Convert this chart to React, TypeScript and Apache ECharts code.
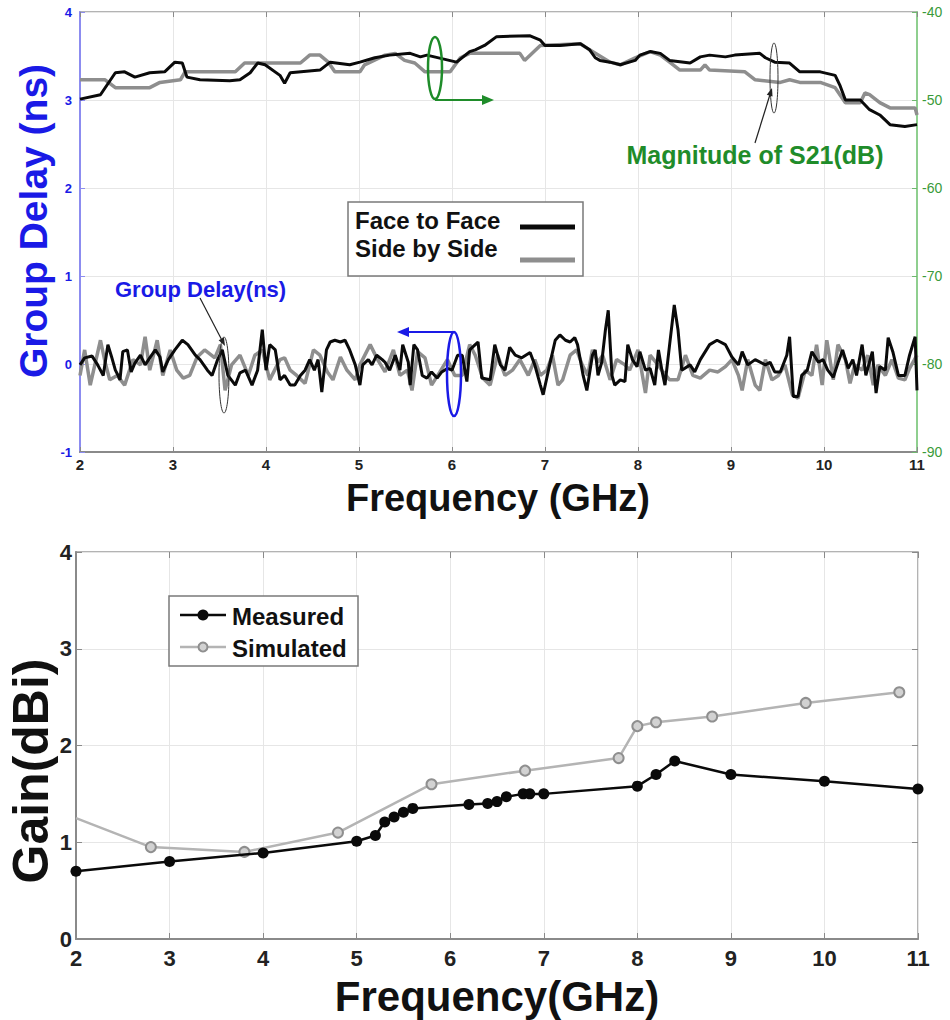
import React, { useEffect, useRef } from "react";
import * as echarts from "echarts";

// ---------- Top chart data ----------
const FREQ_TICKS = [2, 3, 4, 5, 6, 7, 8, 9, 10, 11];

// Magnitude of S21 (dB), [GHz, dB]
const S21_FACE: [number, number][] = [
  [2.0, -49.9], [2.22, -49.4], [2.38, -46.9], [2.48, -46.8], [2.59, -47.4], [2.75, -46.9], [2.91, -46.8],
  [3.02, -45.7], [3.1, -45.8], [3.15, -47.4], [3.29, -47.7], [3.61, -47.8], [3.72, -47.7], [3.83, -46.9],
  [3.91, -45.8], [3.99, -46.0], [4.15, -47.2], [4.2, -48.1], [4.26, -46.9], [4.58, -46.6], [4.69, -45.7],
  [4.9, -46.0], [5.01, -45.7], [5.17, -45.2], [5.33, -44.9], [5.55, -44.7], [5.66, -45.1], [5.73, -44.9],
  [6.05, -45.7], [6.19, -44.5], [6.25, -44.3], [6.35, -43.8], [6.48, -42.8], [6.84, -42.7], [6.95, -43.2],
  [7.0, -43.8], [7.16, -43.8], [7.38, -43.6], [7.48, -44.3], [7.54, -45.2], [7.59, -45.5], [7.7, -45.7],
  [7.81, -46.0], [7.97, -45.5], [8.02, -44.9], [8.13, -44.5], [8.24, -44.7], [8.34, -45.5], [8.56, -45.8],
  [8.67, -45.1], [8.77, -44.9], [8.94, -45.1], [9.04, -44.9], [9.31, -44.7], [9.37, -45.2], [9.47, -45.7],
  [9.63, -45.8], [9.74, -46.8], [9.96, -46.8], [10.12, -47.2], [10.17, -48.3], [10.23, -50.0], [10.39, -50.0],
  [10.49, -51.1], [10.6, -51.7], [10.71, -52.8], [10.87, -53.0], [11.0, -52.8],
];
const S21_SIDE: [number, number][] = [
  [2.0, -47.7], [2.27, -47.7], [2.38, -48.6], [2.75, -48.6], [2.86, -48.0], [3.08, -47.7], [3.13, -46.8],
  [3.67, -46.8], [3.77, -45.8], [4.37, -45.8], [4.47, -44.9], [4.58, -44.9], [4.67, -45.7], [4.74, -46.8],
  [5.01, -46.8], [5.06, -46.0], [5.28, -44.9], [5.39, -44.7], [5.49, -45.5], [5.6, -45.8], [5.71, -46.8],
  [5.87, -46.8], [5.98, -46.8], [6.09, -45.2], [6.19, -44.7], [6.73, -44.7], [6.78, -45.5], [6.95, -43.8],
  [7.38, -43.6], [7.48, -44.3], [7.7, -45.7], [7.81, -46.0], [7.97, -45.2], [8.13, -44.5], [8.24, -44.9],
  [8.34, -45.7], [8.45, -46.6], [8.67, -46.6], [8.72, -46.0], [8.77, -46.6], [9.15, -46.8], [9.26, -47.7],
  [9.53, -48.0], [9.63, -47.7], [9.74, -48.0], [9.96, -48.0], [10.12, -48.6], [10.23, -50.3], [10.39, -50.3],
  [10.44, -49.2], [10.49, -49.4], [10.6, -50.3], [10.71, -50.9], [10.98, -50.9], [11.0, -51.7],
];

// Group delay (ns), [GHz, ns]
const GD_FACE: [number, number][] = [
  [2.0, -0.01], [2.05, 0.07], [2.13, 0.09], [2.19, -0.01], [2.25, -0.13], [2.3, 0.22], [2.34, 0.08], [2.38, -0.07],
  [2.41, -0.13], [2.43, -0.18], [2.46, 0.14], [2.51, 0.16], [2.55, -0.09], [2.59, 0.01], [2.65, 0.1], [2.7, -0.01],
  [2.75, 0.07], [2.81, 0.16], [2.86, 0.08], [2.89, -0.09], [2.95, 0.05], [3.02, 0.16], [3.1, 0.27], [3.16, 0.22],
  [3.24, 0.1], [3.29, 0.05], [3.37, -0.07], [3.42, -0.13], [3.48, 0.05], [3.53, 0.16], [3.59, -0.13], [3.67, -0.24],
  [3.72, -0.1], [3.78, -0.07], [3.85, -0.24], [3.91, -0.07], [3.96, 0.39], [4.0, -0.07], [4.04, 0.22], [4.1, 0.16],
  [4.15, -0.18], [4.2, -0.13], [4.26, -0.24], [4.31, -0.24], [4.37, -0.13], [4.42, -0.07], [4.47, 0.05], [4.52, -0.07],
  [4.56, 0.05], [4.6, -0.32], [4.65, 0.16], [4.69, 0.25], [4.74, 0.27], [4.8, 0.25], [4.85, 0.27], [4.9, 0.16],
  [4.96, -0.01], [5.01, -0.24], [5.04, -0.01], [5.1, 0.05], [5.14, -0.01], [5.19, 0.1], [5.25, 0.05], [5.28, 0.02],
  [5.33, -0.07], [5.39, 0.1], [5.44, -0.07], [5.47, 0.22], [5.53, 0.02], [5.55, -0.24], [5.59, 0.22], [5.63, 0.16],
  [5.68, -0.13], [5.73, -0.16], [5.78, -0.09], [5.84, -0.16], [5.89, -0.09], [5.95, -0.05], [6.0, -0.07], [6.06, 0.1],
  [6.11, 0.1], [6.16, -0.2], [6.19, 0.16], [6.25, 0.22], [6.28, 0.25], [6.32, -0.16], [6.41, -0.18], [6.46, 0.22],
  [6.52, -0.01], [6.57, -0.07], [6.62, 0.19], [6.68, 0.1], [6.75, 0.07], [6.84, 0.13], [6.89, -0.01], [6.95, -0.24],
  [6.98, -0.35], [7.05, -0.01], [7.11, 0.27], [7.16, 0.33], [7.22, 0.27], [7.27, 0.25], [7.32, 0.3], [7.35, 0.22],
  [7.41, -0.13], [7.45, -0.3], [7.51, 0.1], [7.54, 0.16], [7.57, -0.13], [7.61, 0.02], [7.65, 0.39], [7.68, 0.61],
  [7.72, -0.13], [7.75, -0.24], [7.81, -0.18], [7.86, -0.2], [7.89, 0.22], [7.94, 0.05], [7.99, -0.03], [8.02, 0.14],
  [8.08, -0.07], [8.13, -0.05], [8.18, -0.24], [8.22, 0.16], [8.26, -0.09], [8.29, -0.24], [8.34, 0.22], [8.39, 0.67],
  [8.43, 0.39], [8.47, -0.07], [8.56, -0.01], [8.61, -0.09], [8.67, 0.05], [8.77, 0.22], [8.85, 0.27], [8.94, 0.22],
  [9.01, 0.08], [9.08, -0.01], [9.12, 0.14], [9.18, -0.01], [9.26, 0.05], [9.37, -0.01], [9.42, 0.02], [9.47, -0.09],
  [9.53, -0.09], [9.6, 0.1], [9.63, 0.31], [9.67, -0.37], [9.72, -0.37], [9.76, -0.13], [9.82, -0.07], [9.87, 0.14],
  [9.94, 0.02], [9.99, 0.05], [10.04, -0.07], [10.1, -0.15], [10.15, 0.01], [10.2, 0.16], [10.26, -0.05], [10.31, 0.05],
  [10.35, -0.13], [10.41, 0.22], [10.45, -0.13], [10.52, 0.14], [10.56, -0.33], [10.6, -0.03], [10.66, -0.07],
  [10.69, 0.3], [10.74, 0.14], [10.8, -0.13], [10.87, -0.13], [10.92, 0.1], [10.98, 0.31], [11.0, -0.3],
];
const GD_SIDE: [number, number][] = [
  [2.0, -0.13], [2.05, 0.16], [2.11, -0.24], [2.22, 0.27], [2.27, 0.02], [2.32, -0.18], [2.4, -0.13], [2.48, -0.24],
  [2.57, 0.05], [2.65, -0.01], [2.7, 0.31], [2.75, -0.07], [2.83, 0.27], [2.89, -0.13], [2.97, 0.16], [3.04, -0.07],
  [3.11, -0.16], [3.18, -0.13], [3.26, 0.08], [3.34, 0.16], [3.45, 0.07], [3.51, 0.22], [3.56, -0.3], [3.63, -0.01],
  [3.72, 0.1], [3.81, -0.13], [3.88, 0.1], [3.96, 0.16], [4.04, -0.18], [4.15, 0.05], [4.2, 0.07], [4.26, -0.07],
  [4.33, -0.13], [4.42, -0.22], [4.51, 0.16], [4.58, 0.1], [4.66, -0.09], [4.72, -0.18], [4.8, 0.08], [4.87, -0.07],
  [4.96, -0.18], [5.01, -0.01], [5.12, 0.22], [5.2, 0.05], [5.28, -0.09], [5.37, 0.16], [5.44, -0.13], [5.52, -0.07],
  [5.57, -0.3], [5.63, 0.14], [5.71, 0.07], [5.78, -0.24], [5.87, -0.09], [5.95, 0.05], [6.03, -0.13], [6.11, -0.13],
  [6.19, 0.22], [6.25, 0.1], [6.33, -0.16], [6.41, -0.24], [6.49, 0.1], [6.57, -0.13], [6.65, -0.07], [6.73, 0.05],
  [6.82, -0.13], [6.89, 0.05], [6.95, -0.13], [7.02, -0.07], [7.08, 0.1], [7.14, -0.24], [7.19, -0.18], [7.27, 0.1],
  [7.34, 0.16], [7.4, -0.01], [7.46, -0.13], [7.51, 0.16], [7.57, 0.02], [7.62, 0.1], [7.7, -0.18], [7.77, 0.05],
  [7.86, -0.01], [7.91, -0.07], [8.0, 0.16], [8.08, -0.33], [8.13, 0.1], [8.2, 0.01], [8.27, -0.09], [8.34, -0.18],
  [8.43, -0.18], [8.51, 0.1], [8.59, -0.13], [8.67, -0.16], [8.77, -0.07], [8.86, -0.09], [8.94, -0.03], [9.01, 0.05],
  [9.08, -0.13], [9.12, -0.3], [9.18, 0.05], [9.26, -0.24], [9.31, -0.3], [9.37, 0.05], [9.44, -0.18], [9.51, -0.13],
  [9.58, -0.01], [9.66, -0.35], [9.72, -0.39], [9.8, -0.07], [9.87, -0.13], [9.92, 0.22], [9.98, -0.24], [10.03, 0.27],
  [10.1, -0.18], [10.15, 0.22], [10.23, 0.05], [10.28, -0.22], [10.33, -0.01], [10.41, -0.07], [10.47, 0.1],
  [10.53, -0.24], [10.58, -0.01], [10.66, -0.13], [10.73, 0.05], [10.8, -0.16], [10.87, -0.18], [10.92, -0.05],
  [11.0, 0.1],
];

// ---------- Bottom chart data ----------
const MEAS_F = [2, 3, 4, 5, 5.2, 5.3, 5.4, 5.5, 5.6, 6.2, 6.4, 6.5, 6.6, 6.78, 6.85, 7, 8, 8.2, 8.4, 9, 10, 11];
const MEAS_G = [0.7, 0.8, 0.89, 1.01, 1.07, 1.21, 1.26, 1.31, 1.35, 1.39, 1.4, 1.42, 1.47, 1.5, 1.5, 1.5, 1.58, 1.7, 1.84, 1.7, 1.63, 1.55];
const SIM_F = [2, 2.8, 3.8, 4.8, 5.8, 6.8, 7.8, 8.0, 8.2, 8.8, 9.8, 10.8];
const SIM_G = [1.25, 0.95, 0.9, 1.1, 1.6, 1.74, 1.87, 2.2, 2.24, 2.3, 2.44, 2.55];

const FONT = "'Liberation Sans', Arial, Helvetica, sans-serif";
const BLUE = "#1a1ae6";
const GREEN = "#1f8c2a";

export default function App() {
  const ref = useRef<HTMLDivElement>(null);

  useEffect(() => {
    document.body.style.margin = "0";
    if (!ref.current) return;
    const chart = echarts.init(ref.current, undefined, { renderer: "svg" });

    const arrowHead = (tipX: number, tipY: number, dirX: number, dirY: number, color: string, len = 10, half = 4) => {
      const nx = -dirY, ny = dirX;
      const bx = tipX - dirX * len, by = tipY - dirY * len;
      return {
        type: "polygon",
        shape: { points: [[tipX, tipY], [bx + nx * half, by + ny * half], [bx - nx * half, by - ny * half]] },
        style: { fill: color },
        z: 100,
      };
    };
    const norm = (x: number, y: number) => {
      const l = Math.hypot(x, y);
      return [x / l, y / l];
    };
    const [adx, ady] = norm(225 - 200, 346 - 298);
    const [mdx, mdy] = norm(772 - 755, 88 - 143);

    const titleText = (text: string, x: number, y: number, size: number, color: string, rotate = false) => ({
      type: "text", x, y, rotation: rotate ? Math.PI / 2 : 0,
      style: { text, font: `bold ${size}px ${FONT}`, fill: color, textAlign: "center", textVerticalAlign: "middle" },
      z: 40,
    });

    const option: any = {
      animation: false,
      backgroundColor: "#ffffff",
      textStyle: { fontFamily: FONT },
      grid: [
        { left: 80, right: 33, top: 12, height: 440, show: true, borderColor: "#9a9a9a", borderWidth: 1.5, containLabel: false, outerBoundsMode: "none" },
        { left: 76, right: 32, top: 552, height: 387, show: true, borderColor: "#9a9a9a", borderWidth: 1.5, containLabel: false, outerBoundsMode: "none" },
      ],
      xAxis: [
        {
          type: "value", gridIndex: 0, min: 2, max: 11, interval: 1,
          axisLine: { onZero: false, lineStyle: { color: "#8a8a8a", width: 2 } },
          axisTick: { inside: true, length: 5, lineStyle: { color: "#8a8a8a" } },
          axisLabel: { fontSize: 15, fontWeight: "bold", color: "#222", margin: 5, fontFamily: FONT },
          splitLine: { show: true, lineStyle: { color: "#e6e6e6", width: 1 } },
        },
        {
          type: "value", gridIndex: 0, min: 2, max: 11, interval: 1, position: "top",
          axisLine: { show: false, onZero: false }, axisLabel: { show: false }, splitLine: { show: false },
          axisTick: { inside: true, length: 5, lineStyle: { color: "#8a8a8a" } },
        },
        {
          type: "value", gridIndex: 1, min: 2, max: 11, interval: 1,
          axisLine: { onZero: false, lineStyle: { color: "#8a8a8a", width: 2 } },
          axisTick: { inside: true, length: 6, lineStyle: { color: "#8a8a8a" } },
          axisLabel: { fontSize: 22, fontWeight: "bold", color: "#222", margin: 8, fontFamily: FONT },
          splitLine: { show: true, lineStyle: { color: "#e6e6e6", width: 1 } },
        },
        {
          type: "value", gridIndex: 1, min: 2, max: 11, interval: 1, position: "top",
          axisLine: { show: false, onZero: false }, axisLabel: { show: false }, splitLine: { show: false },
          axisTick: { inside: true, length: 6, lineStyle: { color: "#8a8a8a" } },
        },
      ],
      yAxis: [
        {
          type: "value", gridIndex: 0, min: -1, max: 4, interval: 1, position: "left",
          axisLine: { show: true, onZero: false, lineStyle: { color: "#8c8cf0", width: 2 } },
          axisTick: { show: true, inside: true, length: 5, lineStyle: { color: "#8c8cf0" } },
          axisLabel: { fontSize: 13, fontWeight: "bold", color: BLUE, margin: 8, fontFamily: FONT },
          splitLine: { show: true, lineStyle: { color: "#e6e6e6", width: 1 } },
        },
        {
          type: "value", gridIndex: 0, min: -90, max: -40, interval: 10, position: "right",
          axisLine: { show: true, onZero: false, lineStyle: { color: "#8fcf8f", width: 2 } },
          axisTick: { show: true, inside: true, length: 5, lineStyle: { color: "#6fb86f" } },
          axisLabel: { fontSize: 14, color: "#3a9a3a", margin: 5, fontFamily: FONT },
          splitLine: { show: false },
        },
        {
          type: "value", gridIndex: 1, min: 0, max: 4, interval: 1, position: "left",
          axisLine: { show: true, onZero: false, lineStyle: { color: "#8a8a8a", width: 2 } },
          axisTick: { show: true, inside: true, length: 6, lineStyle: { color: "#8a8a8a" } },
          axisLabel: { fontSize: 22, fontWeight: "bold", color: "#222", margin: 4, fontFamily: FONT },
          splitLine: { show: true, lineStyle: { color: "#e6e6e6", width: 1 } },
        },
        {
          type: "value", gridIndex: 1, min: 0, max: 4, interval: 1, position: "right",
          axisLine: { show: false, onZero: false }, axisLabel: { show: false }, splitLine: { show: false },
          axisTick: { show: true, inside: true, length: 6, lineStyle: { color: "#8a8a8a" } },
        },
      ],
      series: [
        {
          name: "Side by Side S21", type: "line", xAxisIndex: 0, yAxisIndex: 1, data: S21_SIDE,
          showSymbol: false, lineStyle: { color: "#8e8e8e", width: 3.5 }, z: 2,
        },
        {
          name: "Face to Face S21", type: "line", xAxisIndex: 0, yAxisIndex: 1, data: S21_FACE,
          showSymbol: false, lineStyle: { color: "#0a0a0a", width: 3 }, z: 3,
        },
        {
          name: "Side by Side GD", type: "line", xAxisIndex: 0, yAxisIndex: 0, data: GD_SIDE,
          showSymbol: false, lineStyle: { color: "#8e8e8e", width: 3.5 }, z: 2,
        },
        {
          name: "Face to Face GD", type: "line", xAxisIndex: 0, yAxisIndex: 0, data: GD_FACE,
          showSymbol: false, lineStyle: { color: "#0a0a0a", width: 3 }, z: 3,
        },
        {
          name: "Simulated", type: "line", xAxisIndex: 2, yAxisIndex: 2,
          data: SIM_F.map((f, i) => (i === 0 ? { value: [f, SIM_G[i]], symbol: "none" } : [f, SIM_G[i]])),
          symbol: "circle", symbolSize: 10,
          lineStyle: { color: "#b4b4b4", width: 2.5 },
          itemStyle: { color: "#d2d2d2", borderColor: "#8f8f8f", borderWidth: 2 }, z: 2,
        },
        {
          name: "Measured", type: "line", xAxisIndex: 2, yAxisIndex: 2,
          data: MEAS_F.map((f, i) => [f, MEAS_G[i]]),
          symbol: "circle", symbolSize: 11,
          lineStyle: { color: "#0a0a0a", width: 2.5 },
          itemStyle: { color: "#0a0a0a" }, z: 3,
        },
      ],
      graphic: [
        // axis titles
        titleText("Group Delay (ns)", 33, 221, 39, BLUE, true),
        titleText("Frequency (GHz)", 498, 498, 38, "#111"),
        titleText("Gain(dBi)", 31, 771, 50, "#111", true),
        titleText("Frequency(GHz)", 497, 996, 42, "#111"),
        // top legend
        { type: "rect", shape: { x: 348, y: 202, width: 235, height: 74 }, style: { fill: "#fff", stroke: "#7a7a7a", lineWidth: 1.5 }, z: 50 },
        { type: "text", x: 355, y: 220, style: { text: "Face to Face", font: `bold 24px ${FONT}`, fill: "#111", textVerticalAlign: "middle" }, z: 51 },
        { type: "text", x: 355, y: 248, style: { text: "Side by Side", font: `bold 24px ${FONT}`, fill: "#111", textVerticalAlign: "middle" }, z: 51 },
        { type: "line", shape: { x1: 520, y1: 227, x2: 575, y2: 227 }, style: { stroke: "#0a0a0a", lineWidth: 5 }, z: 51 },
        { type: "line", shape: { x1: 520, y1: 260, x2: 575, y2: 260 }, style: { stroke: "#8e8e8e", lineWidth: 5 }, z: 51 },
        // bottom legend
        { type: "rect", shape: { x: 169, y: 596, width: 189, height: 70 }, style: { fill: "#fff", stroke: "#7a7a7a", lineWidth: 1.5 }, z: 50 },
        { type: "line", shape: { x1: 180, y1: 615, x2: 226, y2: 615 }, style: { stroke: "#0a0a0a", lineWidth: 2.5 }, z: 51 },
        { type: "circle", shape: { cx: 203, cy: 615, r: 5.5 }, style: { fill: "#0a0a0a" }, z: 52 },
        { type: "line", shape: { x1: 180, y1: 647, x2: 226, y2: 647 }, style: { stroke: "#b4b4b4", lineWidth: 2.5 }, z: 51 },
        { type: "circle", shape: { cx: 203, cy: 647, r: 4.5 }, style: { fill: "#d2d2d2", stroke: "#8f8f8f", lineWidth: 2 }, z: 52 },
        { type: "text", x: 232, y: 616, style: { text: "Measured", font: `bold 24px ${FONT}`, fill: "#111", textVerticalAlign: "middle" }, z: 51 },
        { type: "text", x: 232, y: 648, style: { text: "Simulated", font: `bold 24px ${FONT}`, fill: "#111", textVerticalAlign: "middle" }, z: 51 },
        // green marker for S21
        { type: "ellipse", shape: { cx: 435, cy: 68, rx: 7, ry: 31 }, style: { fill: "none", stroke: GREEN, lineWidth: 2.5 }, z: 60 },
        { type: "line", shape: { x1: 435, y1: 100, x2: 484, y2: 100 }, style: { stroke: GREEN, lineWidth: 2 }, z: 60 },
        arrowHead(494, 100, 1, 0, GREEN, 12, 5),
        // blue marker for group delay
        { type: "ellipse", shape: { cx: 454, cy: 374, rx: 7, ry: 42 }, style: { fill: "none", stroke: BLUE, lineWidth: 2.5 }, z: 60 },
        { type: "line", shape: { x1: 455, y1: 332, x2: 406, y2: 332 }, style: { stroke: BLUE, lineWidth: 2 }, z: 60 },
        arrowHead(397, 332, -1, 0, BLUE, 12, 5),
        // group delay callout
        { type: "text", x: 115, y: 289, style: { text: "Group Delay(ns)", font: `bold 22px ${FONT}`, fill: BLUE, textVerticalAlign: "middle" }, z: 60 },
        { type: "line", shape: { x1: 200, y1: 298, x2: 225 - adx * 6, y2: 346 - ady * 6 }, style: { stroke: "#222", lineWidth: 1.2 }, z: 60 },
        arrowHead(225, 346, adx, ady, "#222", 8, 3),
        { type: "ellipse", shape: { cx: 224, cy: 375, rx: 5, ry: 38 }, style: { fill: "none", stroke: "#333", lineWidth: 1 }, z: 60 },
        // S21 callout
        { type: "ellipse", shape: { cx: 774, cy: 78, rx: 4, ry: 35 }, style: { fill: "none", stroke: "#333", lineWidth: 1 }, z: 60 },
        { type: "line", shape: { x1: 755, y1: 143, x2: 772 - mdx * 6, y2: 88 - mdy * 6 }, style: { stroke: "#222", lineWidth: 1.2 }, z: 60 },
        arrowHead(772, 88, mdx, mdy, "#222", 8, 3),
        { type: "text", x: 755, y: 155, style: { text: "Magnitude of S21(dB)", font: `bold 25px ${FONT}`, fill: GREEN, textAlign: "center", textVerticalAlign: "middle" }, z: 60 },
      ],
    };
    chart.setOption(option);
    return () => chart.dispose();
  }, []);

  return <div ref={ref} style={{ width: 950, height: 1020 }} />;
}
